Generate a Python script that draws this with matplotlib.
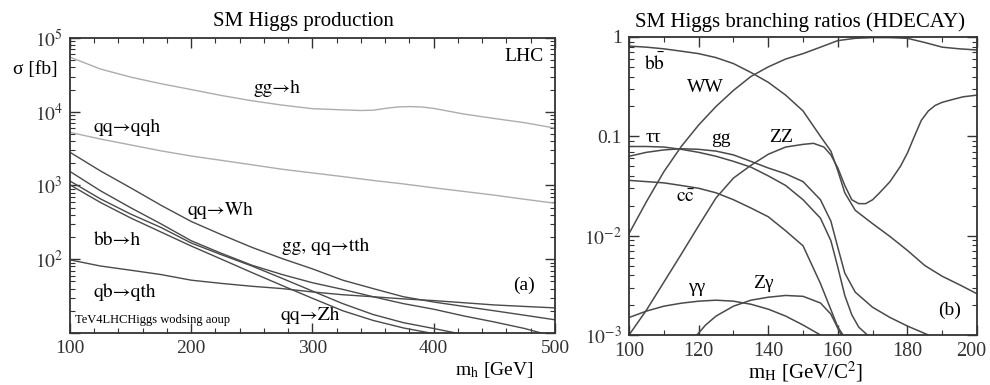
import numpy as np
import matplotlib
matplotlib.use("Agg")
import matplotlib.pyplot as plt
from matplotlib.ticker import MultipleLocator, LogLocator, NullFormatter

plt.rcParams['font.family'] = ['Liberation Serif', 'STIXGeneral', 'DejaVu Serif']
plt.rcParams['mathtext.fontset'] = 'stix'

# ---- panel (a): SM Higgs production, sigma [fb] vs m_h [GeV]
m_prod = [100, 125, 150, 175, 200, 225, 250, 275, 300, 325, 350, 375, 400, 425, 450, 475, 500]
m_ggh = [100, 125, 150, 175, 200, 225, 250, 275, 300, 325, 340, 350, 360, 370, 380, 390, 400, 425, 450, 475, 500]
sig_ggh = [55000, 38000, 29500, 24000, 20000, 16600, 14100, 12300, 11000, 10600, 10400, 10500, 11100,
           11600, 11750, 11600, 11100, 9300, 8100, 7100, 6000]
sig_qqh = [5250, 4270, 3550, 2950, 2510, 2190, 1910, 1660, 1480, 1320, 1170, 1050, 930, 830, 740, 650, 575]
sig_wh = [2820, 1580, 930, 540, 325, 215, 145, 102, 74, 52, 40, 31, 26.3, 22.9, 20, 17.4, 15.1]
sig_b = [1550, 850, 500, 302, 178, 120, 83, 62, 48, 39, 31, 25, 21, 17, 14.1, 11.5, 8.9]
sig_c = [1150, 660, 410, 270, 166, 115, 81, 55, 37, 25, 17.8, 13.8, 11.5, 9.5, 8.0, 6.8, 5.8]
sig_d = [1020, 590, 363, 234, 151, 100, 66, 44, 29.5, 20, 14.8, 11.7, 9.8, 8.3, 7.2, 6.3, 5.6]
sig_qth = [98, 81, 71, 62, 52, 47, 43, 40, 36, 33, 31, 29, 27.5, 25.7, 24, 22.9, 21.9]

# ---- panel (b): SM Higgs branching ratios vs m_H
m_bb = [100, 105, 110, 115, 120, 125, 130, 135, 140, 145, 150, 155, 158, 160, 162, 165, 170, 175, 180, 185, 190, 195, 200]
br_bb = [0.81, 0.79, 0.76, 0.72, 0.68, 0.62, 0.54, 0.44, 0.35, 0.26, 0.18, 0.10, 0.071, 0.045, 0.027, 0.018,
         0.0132, 0.0098, 0.0071, 0.0050, 0.0039, 0.0032, 0.0026]
m_ww = [100, 105, 110, 115, 120, 125, 130, 135, 140, 145, 150, 155, 160, 165, 170, 175, 180, 185, 190, 195, 200]
br_ww = [0.0105, 0.022, 0.044, 0.079, 0.13, 0.20, 0.29, 0.40, 0.50, 0.60, 0.68, 0.79, 0.92, 0.97, 0.986,
         0.986, 0.97, 0.88, 0.79, 0.76, 0.74]
m_zz = [100, 105, 110, 115, 120, 125, 130, 135, 140, 145, 150, 153, 156, 158, 160, 162, 164, 166, 168, 170,
        172, 175, 178, 180, 182, 184, 186, 188, 190, 193, 196, 200]
br_zz = [0.001, 0.00178, 0.0034, 0.0065, 0.0126, 0.024, 0.038, 0.051, 0.066, 0.078, 0.083, 0.085, 0.078,
         0.065, 0.048, 0.032, 0.023, 0.021, 0.021, 0.023, 0.027, 0.035, 0.05, 0.068, 0.10, 0.145, 0.18,
         0.205, 0.22, 0.235, 0.25, 0.26]
m_tautau = [100, 105, 110, 115, 120, 125, 130, 135, 140, 145, 150, 155, 158, 160, 162, 164, 166, 168.5]
br_tautau = [0.079, 0.079, 0.078, 0.074, 0.069, 0.063, 0.056, 0.049, 0.040, 0.032, 0.023, 0.015, 0.0089,
             0.0048, 0.0025, 0.0016, 0.0012, 0.001]
m_gg = [100, 105, 110, 115, 120, 125, 130, 135, 140, 145, 150, 155, 158, 160, 162, 165, 170, 175, 180, 186]
br_gg = [0.063, 0.069, 0.073, 0.075, 0.074, 0.071, 0.065, 0.056, 0.048, 0.042, 0.035, 0.023, 0.014, 0.0076,
         0.0042, 0.0027, 0.0019, 0.0015, 0.00123, 0.001]
m_cc = [100, 105, 110, 115, 120, 125, 130, 135, 140, 145, 150, 155, 158, 160, 161.5]
br_cc = [0.036, 0.035, 0.034, 0.032, 0.030, 0.027, 0.023, 0.019, 0.0155, 0.0112, 0.0079, 0.0033, 0.0018,
         0.0012, 0.001]
m_aa = [100, 105, 110, 115, 120, 125, 130, 135, 140, 145, 150, 155]
br_aa = [0.0015, 0.00174, 0.00195, 0.00209, 0.00219, 0.00224, 0.00219, 0.00204, 0.00182, 0.00155, 0.00126, 0.0010]
m_za = [119.5, 122, 125, 130, 135, 140, 145, 150, 155, 158, 160, 161]
br_za = [0.001, 0.00126, 0.00155, 0.00195, 0.00224, 0.0024, 0.0025, 0.00245, 0.0021, 0.00162, 0.00117, 0.001]
xticks_b = [100, 120, 140, 160, 180, 200]

dark = '#4a4a4a'
light = '#adadad'
axis_col = '#333333'
arrow_font = ['STIXGeneral', 'DejaVu Serif']

fig = plt.figure(figsize=(9.9, 3.85), dpi=100)
ax1 = fig.add_axes([0.0707, 0.1351, 0.4899, 0.7662])
ax2 = fig.add_axes([0.6354, 0.1299, 0.3515, 0.7740])

# panel (a)
ax1.plot(m_ggh, sig_ggh, color=light, lw=1.0)
ax1.plot(m_prod, sig_qqh, color=light, lw=1.0)
for s in [sig_wh, sig_b, sig_c, sig_d, sig_qth]:
    ax1.plot(m_prod, s, color=dark, lw=1.0)
ax1.set_yscale('log')
ax1.set_xlim(100, 500)
ax1.set_ylim(10, 1e5)
ax1.xaxis.set_major_locator(MultipleLocator(100))
ax1.xaxis.set_minor_locator(MultipleLocator(20))
ax1.set_yticks([10, 1e2, 1e3, 1e4, 1e5])
ax1.set_yticklabels(['', '$10^2$', '$10^3$', '$10^4$', '$10^5$'])
ax1.yaxis.set_minor_locator(LogLocator(base=10, subs=np.arange(2, 10)))
ax1.yaxis.set_minor_formatter(NullFormatter())

ax1.text(0.482, 1.055, 'SM Higgs production', transform=ax1.transAxes, ha='center', va='center', fontsize=15)
ax1.text(-0.072, 0.892, 'σ [fb]', transform=ax1.transAxes, ha='center', va='center', fontsize=14)
ax1.text(0.955, -0.125, r'm$_\mathrm{h}$ [GeV]', transform=ax1.transAxes, ha='right', va='center', fontsize=14)
labels_a = [
    ('gg→h', 0.427, 0.83), ('qq→qqh', 0.118, 0.698),
    ('qq→Wh', 0.311, 0.417), ('bb→h', 0.097, 0.315), ('gg, qq→tth', 0.528, 0.292),
    ('qb→qth', 0.113, 0.139), ('qq→Zh', 0.495, 0.061),
]
for t, x, y in labels_a:
    ax1.text(x, y, t, transform=ax1.transAxes, ha='center', va='center', fontsize=14, family=arrow_font)
ax1.text(0.936, 0.936, 'LHC', transform=ax1.transAxes, ha='center', va='center', fontsize=14)
ax1.text(0.936, 0.163, '(a)', transform=ax1.transAxes, ha='center', va='center', fontsize=14)
ax1.text(0.01, 0.044, 'TeV4LHCHiggs wodsing aoup', transform=ax1.transAxes, ha='left', va='center',
         fontsize=9)

# panel (b)
for mm, bb in [(m_bb, br_bb), (m_ww, br_ww), (m_zz, br_zz), (m_tautau, br_tautau), (m_gg, br_gg),
               (m_cc, br_cc), (m_aa, br_aa), (m_za, br_za)]:
    ax2.plot(mm, bb, color=dark, lw=1.1)
ax2.set_yscale('log')
ax2.set_xlim(100, 200)
ax2.set_ylim(1e-3, 1)
ax2.set_xticks(xticks_b)
# last label drawn by hand, pulled a little left so it stays inside the figure
ax2.set_xticklabels([str(v) for v in xticks_b[:-1]] + [''])
ax2.text(0.982, -0.024, str(xticks_b[-1]), transform=ax2.transAxes, ha='center', va='top', fontsize=14.5,
         color=axis_col)
ax2.xaxis.set_minor_locator(MultipleLocator(10))
ax2.set_yticks([1e-3, 1e-2, 0.1, 1])
ax2.set_yticklabels(['$10^{-3}$', '$10^{-2}$', '0.1', '1'])
ax2.yaxis.set_minor_locator(LogLocator(base=10, subs=np.arange(2, 10)))
ax2.yaxis.set_minor_formatter(NullFormatter())

ax2.text(0.491, 1.05, 'SM Higgs branching ratios (HDECAY)', transform=ax2.transAxes, ha='center',
         va='center', fontsize=15)
ax2.text(0.506, -0.124, r'm$_\mathrm{H}$ [GeV/C$^2$]', transform=ax2.transAxes, ha='center', va='center',
         fontsize=15)
labels_b = [
    (r'$\mathrm{b\bar{b}}$', 0.075, 0.913), ('WW', 0.218, 0.832), ('ττ', 0.069, 0.664),
    ('gg', 0.264, 0.658), ('ZZ', 0.437, 0.664), (r'$\mathrm{c\bar{c}}$', 0.161, 0.46),
    ('γγ', 0.195, 0.161), ('Zγ', 0.385, 0.174), ('(b)', 0.922, 0.084),
]
for t, x, y in labels_b:
    ax2.text(x, y, t, transform=ax2.transAxes, ha='center', va='center', fontsize=14)

for ax in (ax1, ax2):
    ax.tick_params(which='both', direction='in', top=True, right=True, colors=axis_col)
    ax.tick_params(which='major', length=7, width=1.0, labelsize=14, pad=5)
    ax.tick_params(which='minor', length=3.5, width=0.8)
    for sp in ax.spines.values():
        sp.set_linewidth(1.3)
        sp.set_color(axis_col)
ax2.tick_params(axis='x', which='major', labelsize=14.5)

fig.savefig('out.png', dpi=100)
